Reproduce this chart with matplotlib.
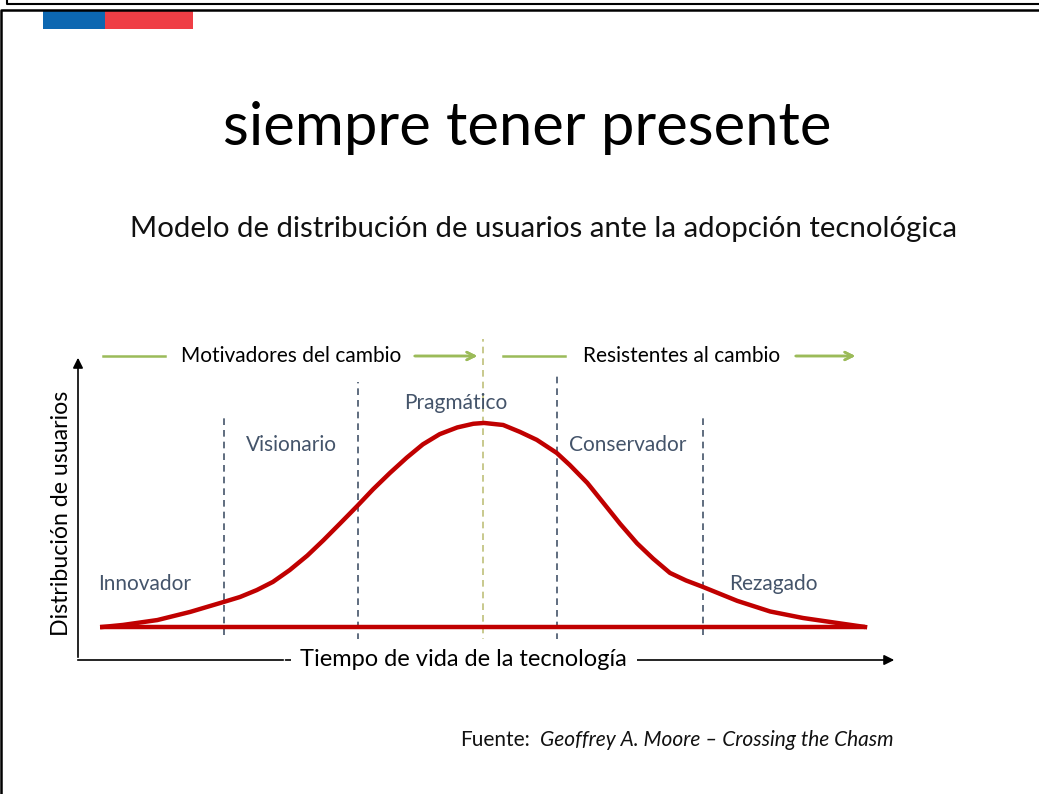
import matplotlib
matplotlib.use('Agg')
import matplotlib.pyplot as plt
from matplotlib.lines import Line2D
from matplotlib.patches import Rectangle

plt.rcParams['font.family'] = ['Lato', 'DejaVu Sans']

W, H = 1039, 794

# Bell curve (time of life vs. share of users, peak = 100)
curve_t = [0.3, 3.0, 7.5, 11.8, 16.2, 18.3, 20.5, 22.6, 24.8, 27.1, 29.2,
           31.4, 33.6, 35.7, 37.9, 40.1, 42.2, 44.4, 46.7, 48.8, 50.2,
           52.7, 54.9, 57.1, 59.7, 61.4, 63.7, 65.8, 68.0, 70.2, 72.3,
           74.5, 76.6, 78.7, 81.0, 83.3, 87.6, 91.9, 96.3, 100.0]
curve_d = [0.0, 1.0, 3.4, 7.4, 12.3, 14.7, 18.1, 22.1, 27.9, 35.0, 42.5,
           50.8, 59.2, 67.5, 75.5, 83.0, 89.5, 94.5, 97.8, 99.6, 100.0,
           99.0, 95.6, 91.7, 85.3, 79.4, 70.6, 60.8, 50.5, 41.0, 33.5,
           26.5, 22.8, 19.8, 16.3, 12.8, 7.6, 4.4, 2.0, 0.0]

# segment boundaries (dashed lines) and their ends
bounds = [16.2, 33.7, 50.1, 59.7, 78.8]
bound_tops = [104, 120, 141, 124.5, 104]
bound_bottoms = [-4, -6.5, -9, -6.5, -4]

segments = ['Innovador', 'Visionario', 'Pragmático', 'Conservador', 'Rezagado']
seg_x = [5.8, 25.0, 46.5, 69.0, 88.0]
seg_y = [21, 89, 110, 89, 21]

groups = ['Motivadores del cambio', 'Resistentes al cambio']


def fx(px):
    return px / W


def fy(py):
    return 1 - py / H


fig = plt.figure(figsize=(W / 100, H / 100), dpi=100)

# slide frame
fig.add_artist(Line2D([fx(7), fx(7), 1], [1, fy(4), fy(4)], color='black', lw=1.5))
fig.add_artist(Line2D([fx(1), fx(1), 1], [0, fy(10), fy(10)], color='black', lw=1.8))
# flag bar
fig.add_artist(Rectangle((fx(43), fy(29)), fx(105) - fx(43), fy(10) - fy(29),
                         transform=fig.transFigure, color='#0C67B1', lw=0))
fig.add_artist(Rectangle((fx(105), fy(29)), fx(193) - fx(105), fy(10) - fy(29),
                         transform=fig.transFigure, color='#EF3E45', lw=0))

fig.text(fx(527), fy(128), 'siempre tener presente', fontsize=43,
         ha='center', va='center', color='black')
fig.text(fx(544), fy(229), 'Modelo de distribución de usuarios ante la adopción tecnológica',
         fontsize=21.2, ha='center', va='center', color='#111111')

# chart area
ax = fig.add_axes([fx(78), fy(660), (897 - 78) / W, (660 - 355) / H])
ax.set_xlim(-2.876, 104.18)
ax.set_ylim(-16.18, 133.3)
ax.axis('off')

for b, top, bot in zip(bounds, bound_tops, bound_bottoms):
    c = '#BFC07A' if b == 50.1 else '#44546A'
    ax.plot([b, b], [bot, top], ls=(0, (4, 3)), color=c, lw=1.2, clip_on=False)

ax.plot([0, 100], [0, 0], color='#C00000', lw=3.2, solid_capstyle='butt')
ax.plot(curve_t, curve_d, color='#C00000', lw=3.2, solid_joinstyle='round')

for name, x, y in zip(segments, seg_x, seg_y):
    ax.text(x, y, name, fontsize=15, color='#44546A', ha='center', va='center')

# axes arrows
ax.annotate('', xy=(0, 1), xytext=(0, 0), xycoords='axes fraction',
            arrowprops=dict(arrowstyle='-|>', color='black', lw=1.2, mutation_scale=15))
ax.annotate('', xy=(1, 0), xytext=(0.25, 0), xycoords='axes fraction',
            arrowprops=dict(arrowstyle='-|>', color='black', lw=1.2, mutation_scale=15))
ax.plot([0, 0.25], [0, 0], transform=ax.transAxes, color='black', lw=1.2, clip_on=False)
ax.text(0.471, 0.003, 'Tiempo de vida de la tecnología', transform=ax.transAxes,
        fontsize=17, ha='center', va='center', color='black',
        bbox=dict(facecolor='white', edgecolor='none', pad=7))
fig.text(fx(62), fy(513), 'Distribución de usuarios', rotation=90, fontsize=16.7,
         ha='center', va='center', color='black')

# top green arrows
green = '#9BBB59'
fig.add_artist(Line2D([fx(103), fx(165)], [fy(356), fy(356)], color=green, lw=1.8))
fig.add_artist(Line2D([fx(503), fx(565)], [fy(356), fy(356)], color=green, lw=1.8))
fig.text(fx(291), fy(356), groups[0], fontsize=15, ha='center', va='center')
fig.text(fx(682), fy(356), groups[1], fontsize=15, ha='center', va='center')
for x0, x1 in [(412, 480), (793, 858)]:
    fig.add_artist(plt.annotate('', xy=(fx(x1), fy(356)), xytext=(fx(x0), fy(356)),
                                xycoords='figure fraction',
                                arrowprops=dict(arrowstyle='->', color=green, lw=1.8,
                                                mutation_scale=14)))

fig.text(fx(460), fy(740), 'Fuente:', fontsize=15, ha='left', va='center',
         color='#111111')
fig.text(fx(893), fy(740), 'Geoffrey A. Moore – Crossing the Chasm', fontsize=15,
         style='italic', ha='right', va='center', color='#111111')

fig.savefig('out.png', dpi=100)
